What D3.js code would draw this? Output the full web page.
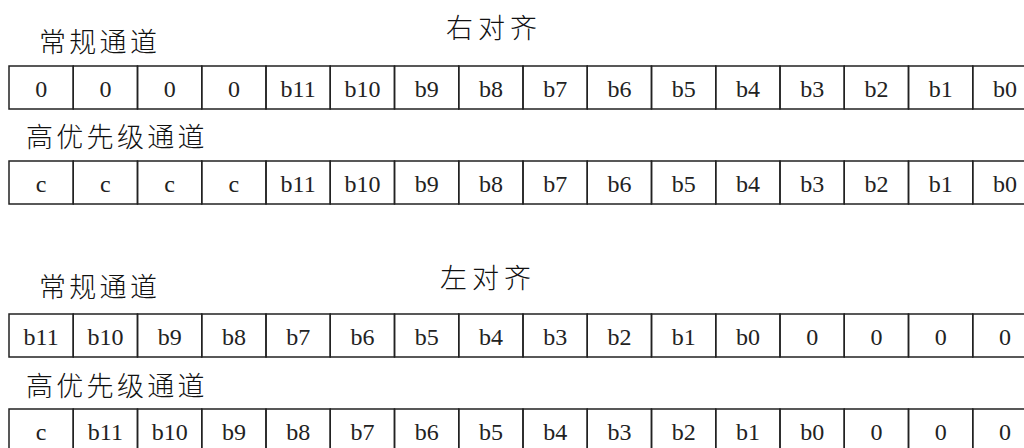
<!DOCTYPE html>
<html><head><meta charset="utf-8">
<script src="https://cdn.jsdelivr.net/npm/d3@7"></script>
<style>html,body{margin:0;padding:0;background:#fff;overflow:hidden}</style>
</head><body>
<svg id="c" width="1024" height="448"></svg>
<script>
const titles = ["右对齐", "左对齐"];
const rowLabels = ["常规通道", "高优先级通道", "常规通道", "高优先级通道"];
const rightNormal = ["0","0","0","0","b11","b10","b9","b8","b7","b6","b5","b4","b3","b2","b1","b0"];
const rightHigh   = ["c","c","c","c","b11","b10","b9","b8","b7","b6","b5","b4","b3","b2","b1","b0"];
const leftNormal  = ["b11","b10","b9","b8","b7","b6","b5","b4","b3","b2","b1","b0","0","0","0","0"];
const leftHigh    = ["c","b11","b10","b9","b8","b7","b6","b5","b4","b3","b2","b1","b0","0","0","0"];
const rows = [rightNormal, rightHigh, leftNormal, leftHigh];

const svg = d3.select("#c");
const cellW = 64.25, x0 = 9;
const x = d3.scaleBand().domain(d3.range(16)).range([x0, x0 + 16 * cellW]).padding(0);
const rowTops = [66, 161, 314, 409];
const cellH = 43;
const labelY = [40, 135, 285, 384];
const labelX = [39, 26, 39, 26];
const titleY = [26, 276];
const titleX = [446, 440];

const cjk = "'Noto Sans CJK SC', 'Noto Sans', sans-serif";

svg.selectAll("text.title").data(titles).join("text")
  .attr("class", "title")
  .attr("x", (d, i) => titleX[i]).attr("y", (d, i) => titleY[i])
  .attr("dominant-baseline", "central")
  .style("font-family", cjk).style("font-size", "27px").style("font-weight", "300").style("letter-spacing", "5px")
  .attr("fill", "#111").text(d => d);

svg.selectAll("text.rl").data(rowLabels).join("text")
  .attr("class", "rl")
  .attr("x", (d, i) => labelX[i]).attr("y", (d, i) => labelY[i])
  .attr("dominant-baseline", "central")
  .style("font-family", cjk).style("font-size", "27px").style("font-weight", "300").style("letter-spacing", "3.3px")
  .attr("fill", "#111").text(d => d);

const g = svg.selectAll("g.row").data(rows).join("g")
  .attr("class", "row")
  .attr("transform", (d, i) => `translate(0,${rowTops[i]})`);

g.selectAll("rect").data(d => d).join("rect")
  .attr("x", (d, i) => x(i)).attr("y", 0)
  .attr("width", x.bandwidth()).attr("height", cellH)
  .attr("fill", "none").attr("stroke", "#222").attr("stroke-width", 1.5);

g.selectAll("text").data(d => d).join("text")
  .attr("x", (d, i) => x(i) + x.bandwidth() / 2).attr("y", cellH / 2 + 1)
  .attr("text-anchor", "middle").attr("dominant-baseline", "central")
  .style("font-family", "'Liberation Serif', 'DejaVu Serif', serif").style("font-size", "24px")
  .attr("fill", "#222").text(d => d);
</script>
</body></html>
